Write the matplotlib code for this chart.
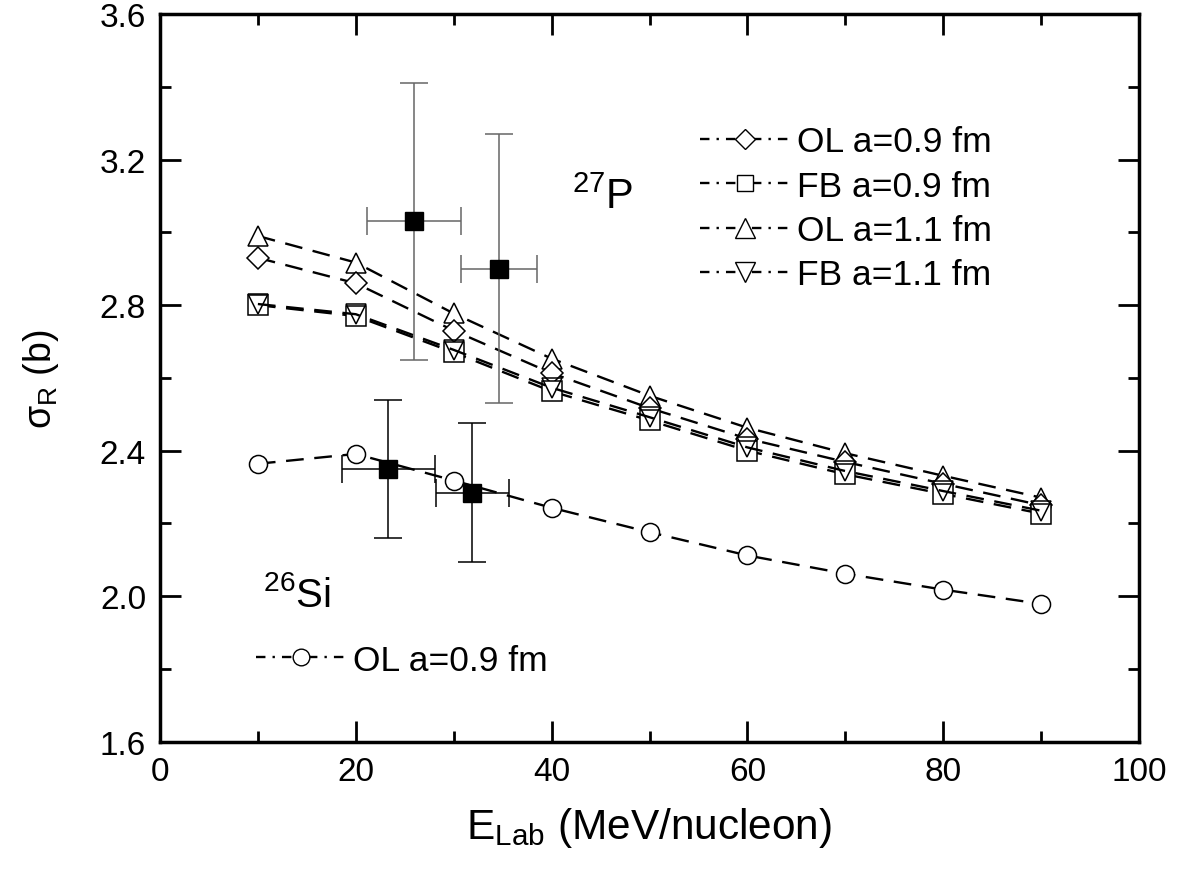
import numpy as np
import matplotlib.pyplot as plt
from matplotlib.lines import Line2D
from matplotlib.ticker import MultipleLocator

plt.rcParams['font.family'] = ['Liberation Sans', 'DejaVu Sans']
plt.rcParams['mathtext.fontset'] = 'custom'
plt.rcParams['mathtext.rm'] = 'Liberation Sans'
plt.rcParams['mathtext.it'] = 'Liberation Sans:italic'

# energies (MeV/nucleon)
energy = [10, 20, 30, 40, 50, 60, 70, 80, 90]

# 27P calculations
ol_09 = [2.930, 2.860, 2.730, 2.613, 2.517, 2.433, 2.369, 2.309, 2.250]
fb_09 = [2.800, 2.770, 2.670, 2.563, 2.483, 2.400, 2.335, 2.281, 2.227]
ol_11 = [2.990, 2.917, 2.777, 2.653, 2.551, 2.463, 2.393, 2.331, 2.271]
fb_11 = [2.803, 2.775, 2.677, 2.573, 2.492, 2.409, 2.344, 2.289, 2.235]

# 26Si calculation
si_ol_09 = [2.364, 2.391, 2.318, 2.243, 2.176, 2.112, 2.062, 2.018, 1.979]

# measured points
p_x = [25.9, 34.6]
p_y = [3.03, 2.90]
p_xerr = [4.8, 3.9]
p_yerr = [0.38, 0.37]

si_x = [23.3, 31.9]
si_y = [2.35, 2.285]
si_xerr = [4.75, 3.7]
si_yerr = [0.19, 0.19]

fig = plt.figure(figsize=(12.01, 8.79), dpi=100)
ax = fig.add_axes([0.1332, 0.155, 0.8152, 0.8279])

dash = (0, (7.5, 4.5))
lw = 1.7
mew = 1.1

ax.plot(energy, ol_11, ls=dash, lw=lw, color='black', marker='^', ms=15,
        mfc='white', mec='black', mew=mew)
ax.plot(energy, ol_09, ls=dash, lw=lw, color='black', marker='D', ms=11.5,
        mfc='white', mec='black', mew=mew)
ax.plot(energy, fb_09, ls=dash, lw=lw, color='black', marker='s', ms=14,
        mfc='white', mec='black', mew=mew)
ax.plot(energy, fb_11, ls=dash, lw=lw, color='black', marker='v', ms=15,
        mfc='none', mec='black', mew=mew)
ax.plot(energy, si_ol_09, ls=dash, lw=lw, color='black', marker='o', ms=13,
        mfc='white', mec='black', mew=mew)

ax.errorbar(p_x, p_y, xerr=p_xerr, yerr=p_yerr, fmt='s', ms=13, color='black',
            ecolor='#666666', elinewidth=1.1, capsize=10, capthick=1.1, zorder=5)
ax.errorbar(si_x, si_y, xerr=si_xerr, yerr=si_yerr, fmt='s', ms=13, color='black',
            ecolor='black', elinewidth=1.1, capsize=10, capthick=1.1, zorder=5)

ax.set_xlim(0, 100)
ax.set_ylim(1.6, 3.6)
ax.xaxis.set_major_locator(MultipleLocator(20))
ax.xaxis.set_minor_locator(MultipleLocator(10))
ax.yaxis.set_major_locator(MultipleLocator(0.4))
ax.yaxis.set_minor_locator(MultipleLocator(0.2))
ax.set_yticklabels([f'{v:.1f}' for v in ax.get_yticks()])
ax.tick_params(which='both', direction='in', top=True, right=True,
               labelsize=24, width=2, pad=10)
ax.tick_params(which='major', length=15)
ax.tick_params(which='minor', length=8)
for s in ax.spines.values():
    s.set_linewidth(2.5)

ax.set_xlabel('E$_{\\mathrm{Lab}}$ (MeV/nucleon)', fontsize=30.5, labelpad=13)
ax.set_ylabel('σ$_{\\mathrm{R}}$ (b)', fontsize=27, labelpad=28)

ax.text(42.1, 3.067, '$^{27}$P', fontsize=30, ha='left', va='baseline')
ax.text(10.5, 1.973, '$^{26}$Si', fontsize=29, ha='left', va='baseline')

# legends
leg_ls = (0, (4, 3, 1, 3))
def handle(marker, ms):
    return Line2D([], [], color='black', ls=leg_ls, lw=lw, marker=marker, ms=ms,
                  mfc='white', mec='black', mew=1.0)

h1 = [handle('D', 10.5), handle('s', 11), handle('^', 14), handle('v', 14)]
l1 = ['OL a=0.9 fm', 'FB a=0.9 fm', 'OL a=1.1 fm', 'FB a=1.1 fm']
leg1 = ax.legend(h1, l1, loc='upper left', bbox_to_anchor=(0.5516, 0.847),
                 frameon=False, fontsize=25.5, handlelength=2.55, handletextpad=0.18,
                 labelspacing=0.32, borderpad=0, borderaxespad=0)
ax.add_artist(leg1)
ax.legend([handle('o', 12)], ['OL a=0.9 fm'], loc='upper left',
          bbox_to_anchor=(0.098, 0.135), frameon=False, fontsize=25.5,
          handlelength=2.55, handletextpad=0.18, borderpad=0, borderaxespad=0)

fig.savefig('out.png', dpi=100)
